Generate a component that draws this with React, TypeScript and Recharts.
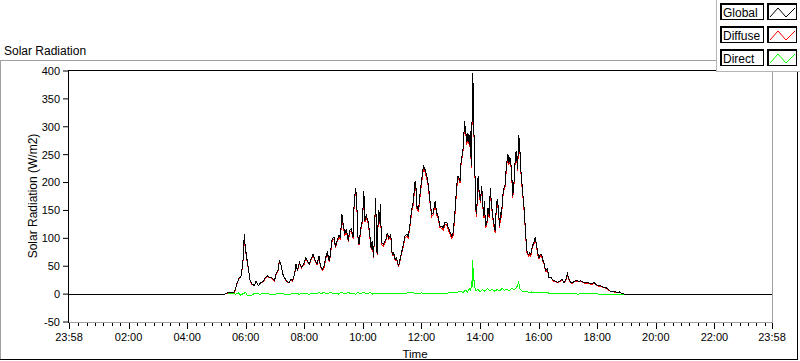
import React from 'react';
import { LineChart, Line, XAxis, YAxis } from 'recharts';

// minutes since 00:00 (the scale runs 23:58 -> 23:58)
const globalTimes = [
  -2, 300, 316, 320, 323, 330, 337, 342, 347, 350,
  352, 355, 357, 359, 363, 366, 369, 373, 378, 381,
  386, 391, 396, 400, 404, 409, 413, 419, 422, 426,
  429, 432, 436, 439, 444, 449, 453, 456, 460, 463,
  466, 470, 474, 479, 483, 486, 490, 494, 498, 501,
  506, 510, 513, 517, 520, 524, 527, 531, 533, 537,
  541, 544, 547, 551, 554, 557, 559, 563, 566, 570,
  573, 576, 580, 582, 585, 587, 590, 592, 596, 599,
  602, 604, 607, 611, 614, 617, 619, 622, 626, 629,
  632, 634, 636, 638, 642, 647, 650, 653, 657, 660,
  663, 666, 669, 673, 676, 679, 683, 686, 690, 693,
  696, 700, 703, 707, 709, 711, 714, 717, 720, 724,
  727, 731, 734, 737, 741, 744, 748, 751, 754, 758,
  761, 765, 768, 772, 775, 778, 782, 785, 789, 792,
  795, 799, 801, 804, 806, 808, 811, 813, 815, 818,
  820, 822, 824, 825, 827, 828, 830, 832, 834, 836,
  838, 841, 843, 845, 847, 849, 851, 854, 856, 859,
  861, 863, 866, 868, 871, 873, 875, 877, 880, 882,
  884, 886, 888, 891, 894, 897, 899, 901, 903, 905,
  907, 910, 912, 914, 917, 919, 921, 923, 925, 928,
  931, 933, 936, 939, 942, 944, 947, 950, 953, 955,
  958, 961, 963, 966, 969, 972, 974, 978, 981, 985,
  988, 991, 995, 998, 1002, 1005, 1008, 1012, 1015, 1019,
  1022, 1026, 1029, 1032, 1036, 1039, 1043, 1046, 1049, 1053,
  1056, 1060, 1063, 1067, 1070, 1073, 1077, 1080, 1084, 1087,
  1090, 1094, 1097, 1101, 1104, 1107, 1111, 1114, 1118, 1121,
  1125, 1128, 1131, 1135, 1438,
];

const globalWm2 = [
  0, 0, 0, 1, 3, 3, 4, 19, 30, 30,
  42, 66, 108, 84, 60, 42, 24, 18, 15, 24,
  15, 21, 23, 29, 33, 30, 30, 24, 36, 42,
  60, 54, 36, 30, 23, 21, 27, 24, 36, 54,
  42, 57, 48, 54, 65, 60, 54, 63, 72, 63,
  54, 69, 51, 45, 48, 66, 75, 60, 69, 99,
  102, 84, 96, 105, 102, 144, 129, 108, 117, 96,
  114, 117, 102, 162, 190, 173, 102, 90, 120, 132,
  184, 132, 141, 129, 108, 81, 96, 66, 173, 72,
  150, 129, 162, 92, 89, 98, 110, 101, 107, 71,
  74, 62, 65, 50, 62, 74, 89, 104, 107, 104,
  122, 152, 164, 203, 188, 155, 152, 179, 203, 230,
  224, 212, 197, 170, 143, 146, 167, 146, 140, 122,
  122, 119, 129, 128, 119, 113, 104, 110, 152, 194,
  212, 203, 236, 254, 266, 310, 289, 272, 289, 268,
  292, 230, 331, 397, 328, 259, 203, 143, 164, 212,
  185, 167, 194, 176, 140, 167, 122, 128, 155, 140,
  191, 164, 140, 128, 113, 152, 170, 158, 122, 146,
  143, 170, 188, 194, 230, 251, 236, 245, 236, 212,
  176, 206, 242, 257, 224, 286, 272, 230, 206, 176,
  146, 113, 77, 71, 74, 71, 86, 92, 103, 92,
  74, 65, 70, 71, 60, 53, 42, 45, 30, 30,
  27, 24, 23, 21, 23, 24, 27, 21, 24, 36,
  27, 21, 20, 22, 25, 24, 23, 24, 23, 21,
  20, 21, 20, 18, 19, 21, 18, 16, 15, 15,
  14, 12, 12, 10, 7, 5, 5, 5, 4, 3,
  4, 2, 1, 0, 0,
];

const diffuseWm2 = [
  0, 0, 0, 1, 2, 3, 3, 18, 29, 30,
  41, 64, 104, 82, 58, 42, 24, 17, 15, 23,
  15, 20, 22, 28, 32, 29, 29, 23, 35, 41,
  58, 53, 35, 29, 22, 21, 26, 23, 35, 52,
  41, 55, 47, 52, 63, 58, 53, 61, 70, 62,
  52, 67, 50, 43, 46, 63, 72, 58, 67, 96,
  99, 82, 93, 102, 99, 140, 126, 105, 114, 94,
  111, 114, 99, 158, 186, 169, 100, 88, 117, 129,
  180, 129, 138, 126, 105, 79, 93, 64, 169, 70,
  146, 126, 158, 89, 86, 95, 107, 98, 104, 69,
  72, 60, 63, 48, 60, 72, 86, 101, 104, 101,
  118, 148, 160, 198, 183, 151, 148, 174, 198, 225,
  219, 207, 192, 166, 139, 142, 163, 142, 136, 119,
  118, 115, 125, 124, 115, 109, 100, 106, 147, 188,
  209, 200, 232, 250, 262, 305, 285, 268, 285, 264,
  288, 226, 327, 392, 324, 255, 199, 139, 160, 208,
  181, 163, 190, 172, 136, 163, 118, 124, 151, 136,
  187, 160, 136, 124, 109, 148, 166, 154, 118, 142,
  139, 166, 184, 190, 226, 247, 232, 241, 232, 208,
  172, 202, 238, 253, 220, 281, 268, 226, 202, 172,
  141, 109, 74, 68, 71, 68, 83, 89, 100, 89,
  71, 63, 68, 69, 58, 51, 40, 43, 29, 29,
  26, 23, 22, 20, 22, 23, 26, 20, 23, 35,
  26, 20, 19, 21, 24, 23, 22, 23, 22, 20,
  19, 20, 19, 17, 18, 20, 17, 15, 14, 14,
  13, 11, 11, 9, 6, 5, 4, 4, 3, 3,
  3, 2, 1, 0, 0,
];

const directTimes = [
  -2, 316, 320, 330, 340, 345, 350, 355, 360, 363,
  366, 370, 375, 380, 390, 400, 410, 420, 430, 440,
  450, 460, 470, 480, 490, 500, 505, 510, 515, 520,
  525, 530, 535, 540, 545, 550, 555, 560, 565, 570,
  575, 580, 585, 590, 595, 600, 605, 610, 615, 620,
  625, 630, 640, 650, 660, 670, 680, 690, 700, 710,
  720, 730, 740, 750, 760, 770, 780, 790, 795, 800,
  805, 810, 814, 818, 821, 823, 824, 825, 826, 827,
  829, 832, 836, 840, 845, 850, 855, 860, 865, 870,
  875, 880, 885, 890, 895, 900, 905, 910, 915, 919,
  922, 926, 930, 935, 940, 945, 950, 955, 960, 970,
  980, 990, 1000, 1010, 1020, 1030, 1040, 1078, 1082, 1135,
  1438,
];

const directWm2 = [
  0, 0, 1, 1, 0, 2, -2, 1, 3, -3,
  -2, -3, 0, 1, 0, 1, 0, 0, 1, 0,
  0, 1, 0, 1, 0, 2, 1, 3, 1, 3,
  1, 2, 3, 1, 2, 0, 3, 2, 1, 3,
  1, 2, 0, 3, 1, 3, 2, 1, 3, 0,
  2, 1, 1, 2, 1, 2, 1, 2, 3, 1,
  2, 1, 2, 1, 2, 1, 3, 2, 4, 5,
  3, 7, 4, 10, 6, 24, 12, 62, 35, 30,
  12, 6, 9, 4, 8, 5, 10, 6, 9, 5,
  8, 6, 10, 7, 9, 6, 11, 8, 12, 21,
  9, 5, 4, 5, 3, 4, 2, 3, 2, 3,
  2, 1, 2, 1, 1, 1, 0, 2, 0, 0,
  0,
];

const yTicks = [-50, 0, 50, 100, 150, 200, 250, 300, 350, 400];
const majorTicks = [-2, 120, 240, 360, 480, 600, 720, 840, 960, 1080, 1200, 1320, 1438];

const minorTicks: number[] = [];
for (let h = 0; h < 1440; h += 120) {
  for (let k = 1; k < 7; k++) {
    const m = h + (k * 120) / 7;
    if (m < 1438) minorTicks.push(m);
  }
}
const allXTicks = [...majorTicks, ...minorTicks].sort((a, b) => a - b);

const toRows = (times: number[], vals: number[]) => times.map((t, i) => ({ t, v: vals[i] }));
const globalRows = toRows(globalTimes, globalWm2);
const diffuseRows = toRows(globalTimes, diffuseWm2);
const directRows = toRows(directTimes, directWm2);

const FONT = "'Liberation Sans', Arial, sans-serif";

const fmtTime = (m: number) => {
  if (m === -2 || m === 1438) return '23:58';
  const h = Math.round(m / 60);
  return `${String(h).padStart(2, '0')}:00`;
};

const XTick = (props: any) => {
  const { x, y, payload } = props;
  const major = majorTicks.includes(payload.value);
  const px = Math.round(x) + 0.5;
  return (
    <g>
      <line x1={px} x2={px} y1={y} y2={y + (major ? 7 : 4)} stroke="#000" shapeRendering="crispEdges" />
      {major && (
        <text x={x} y={y + 19} textAnchor="middle" fontSize={11} fontFamily={FONT} fill="#000">
          {fmtTime(payload.value)}
        </text>
      )}
    </g>
  );
};

const legendItems = [
  { name: 'Global', color: '#000000' },
  { name: 'Diffuse', color: '#ff0000' },
  { name: 'Direct', color: '#00ff00' },
];

export default function App() {
  return (
    <div style={{ position: 'absolute', left: 0, top: 0, width: 800, height: 361, background: '#fff' }}>
      <LineChart width={800} height={361} margin={{ top: 71, right: 28, bottom: 9, left: 8 }}>
        <XAxis
          type="number"
          dataKey="t"
          domain={[-2, 1438]}
          ticks={allXTicks}
          interval={0}
          tick={<XTick />}
          tickSize={0}
          tickMargin={0}
          tickLine={false}
          axisLine={false}
          height={30}
          allowDataOverflow
        />
        <YAxis
          type="number"
          domain={[-50, 400]}
          ticks={yTicks}
          interval={0}
          width={61}
          tickSize={6}
          tickMargin={3}
          axisLine={false}
          tickLine={{ stroke: '#000' }}
          tick={{ fontSize: 11, fontFamily: FONT, fill: '#000' }}
          allowDataOverflow
        />
        <Line data={directRows} dataKey="v" type="linear" stroke="#00ff00" strokeWidth={1} dot={false}
          activeDot={false} isAnimationActive={false} style={{ shapeRendering: 'crispEdges' }} />
        <Line data={diffuseRows} dataKey="v" type="linear" stroke="#ff0000" strokeWidth={1} dot={false}
          activeDot={false} isAnimationActive={false} style={{ shapeRendering: 'crispEdges' }} />
        <Line data={globalRows} dataKey="v" type="linear" stroke="#000000" strokeWidth={1} dot={false}
          activeDot={false} isAnimationActive={false} style={{ shapeRendering: 'crispEdges' }} />
      </LineChart>

      <svg width={800} height={361} style={{ position: 'absolute', left: 0, top: 0, pointerEvents: 'none' }}>
        {/* outer frame */}
        <line x1={0} x2={717} y1={60.5} y2={60.5} stroke="#a0a0a0" />
        <line x1={0.5} x2={0.5} y1={60} y2={360} stroke="#a0a0a0" />
        <line x1={0} x2={798} y1={359.5} y2={359.5} stroke="#000" />
        <line x1={797.5} x2={797.5} y1={71} y2={360} stroke="#000" />

        {/* plot border */}
        <line x1={68} x2={773} y1={70.5} y2={70.5} stroke="#000" />
        <line x1={68.5} x2={68.5} y1={70} y2={323} stroke="#000" />
        <line x1={772.5} x2={772.5} y1={70} y2={323} stroke="#a0a0a0" />
        <line x1={69} x2={773} y1={322.5} y2={322.5} stroke="#a0a0a0" />

        <text x={4} y={55} fontSize={12} fontFamily={FONT} fill="#000">Solar Radiation</text>
        <text x={37} y={196} fontSize={12} fontFamily={FONT} fill="#000" textAnchor="middle"
          transform="rotate(-90 37 196)">Solar Radiation (W/m2)</text>
        <text x={415} y={358} fontSize={11.5} fontFamily={FONT} fill="#000" textAnchor="middle">Time</text>

        {/* legend panel */}
        <rect x={716.5} y={-1} width={90} height={72.5} fill="#fff" stroke="#b4b4b4" />
        {legendItems.map((it, i) => {
          const y0 = 3 + i * 23;
          return (
            <g key={it.name}>
              <rect x={720.5} y={y0 + 0.5} width={43} height={16} fill="#fff" stroke="#000" />
              <line x1={721.5} x2={721.5} y1={y0} y2={y0 + 17} stroke="#000" />
              <line x1={720} x2={764} y1={y0 + 1.5} y2={y0 + 1.5} stroke="#000" />
              <text x={723} y={y0 + 14} fontSize={12} fontFamily={FONT} fill="#000">{it.name}</text>
              <rect x={767.5} y={y0 + 0.5} width={29} height={16} fill="#fff" stroke="#000" />
              <line x1={768.5} x2={768.5} y1={y0} y2={y0 + 17} stroke="#000" />
              <line x1={767} x2={797} y1={y0 + 1.5} y2={y0 + 1.5} stroke="#000" />
              <polyline
                points={`770,${y0 + 14} 778,${y0 + 5} 786,${y0 + 14} 795,${y0 + 5}`}
                fill="none"
                stroke={it.color}
              />
            </g>
          );
        })}
      </svg>
    </div>
  );
}
